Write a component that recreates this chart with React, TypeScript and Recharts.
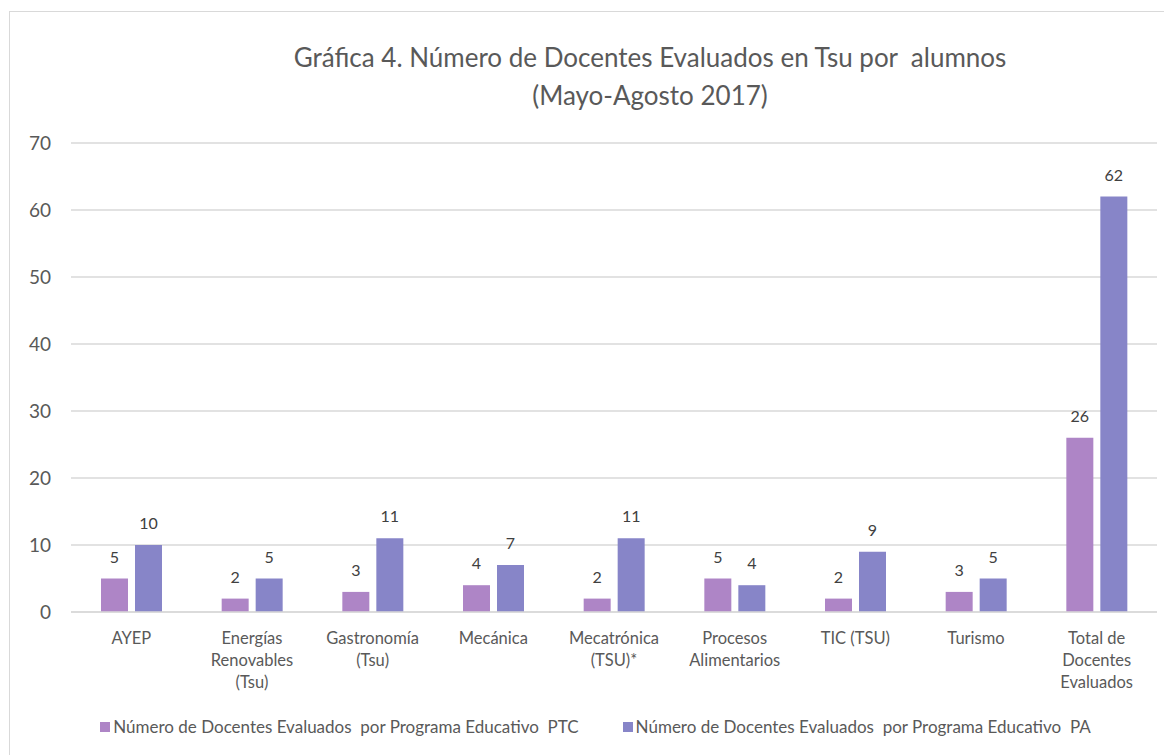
import { BarChart, Bar, XAxis, YAxis, CartesianGrid, Legend, LabelList } from 'recharts';

const categories = [
  'AYEP',
  'Energías\nRenovables\n(Tsu)',
  'Gastronomía\n(Tsu)',
  'Mecánica',
  'Mecatrónica\n(TSU)*',
  'Procesos\nAlimentarios',
  'TIC (TSU)',
  'Turismo',
  'Total de\nDocentes\nEvaluados',
];
const ptcValues = [5, 2, 3, 4, 2, 5, 2, 3, 26];
const paValues = [10, 5, 11, 7, 11, 4, 9, 5, 62];
const yTicks = [0, 10, 20, 30, 40, 50, 60, 70];

const PTC_NAME = 'Número de Docentes Evaluados  por Programa Educativo  PTC';
const PA_NAME = 'Número de Docentes Evaluados  por Programa Educativo  PA';
const PTC_COLOR = '#ae85c6';
const PA_COLOR = '#8785c8';

const data = categories.map((name, i) => ({ name, ptc: ptcValues[i], pa: paValues[i] }));

const FONT = 'Lato, "Open Sans", sans-serif';
const TEXT = '#595959';

const CategoryTick = ({ x, y, payload }: any) => {
  const lines = String(payload.value).split('\n');
  return (
    <text x={x} y={y} textAnchor="middle" fill={TEXT} fontSize={16.5} fontFamily={FONT}>
      {lines.map((l, i) => (
        <tspan key={i} x={x} dy={i === 0 ? 24 : 22}>{l}</tspan>
      ))}
    </text>
  );
};

// legend in Excel's order, keeps the double spaces
const LegendContent = () => (
  <div style={{ display: 'flex', justifyContent: 'center', gap: 44, fontSize: 17, fontFamily: FONT, color: TEXT, whiteSpace: 'pre', paddingLeft: 24 }}>
    {[[PTC_NAME, PTC_COLOR], [PA_NAME, PA_COLOR]].map(([n, c]) => (
      <span key={n} style={{ display: 'flex', alignItems: 'center' }}>
        <span style={{ width: 10, height: 10, background: c, marginRight: 3, display: 'inline-block' }} />
        {n}
      </span>
    ))}
  </div>
);

export default function App() {
  return (
    <div style={{ position: 'relative', marginLeft: 1, marginTop: 3, width: 1163, height: 744, borderTop: '1px solid #d9d9d9', borderLeft: '1px solid #d9d9d9', overflow: 'hidden', background: '#fff', fontFamily: FONT }}>
      <div style={{ position: 'absolute', left: 0, width: 1280, top: 26, textAlign: 'center', color: TEXT, fontSize: 26, lineHeight: '38px' }}>
        Gráfica 4. Número de Docentes Evaluados en Tsu por&nbsp; alumnos<br />(Mayo-Agosto 2017)
      </div>
      <BarChart
        width={1162}
        height={742}
        data={data}
        margin={{ top: 131, right: 15, left: 0, bottom: 0 }}
        barGap={7}
        barSize={27}
      >
        <CartesianGrid vertical={false} stroke="#d9d9d9" strokeWidth={1.5} />
        <XAxis dataKey="name" tick={<CategoryTick />} tickLine={false} axisLine={{ stroke: '#d9d9d9', strokeWidth: 1.5 }} interval={0} height={121} />
        <YAxis domain={[0, 70]} ticks={yTicks} width={61} tickLine={false} axisLine={false} tick={{ fill: TEXT, fontSize: 19, fontFamily: FONT, dx: -12 }} />
        <Legend verticalAlign="bottom" content={<LegendContent />} wrapperStyle={{ bottom: 17 }} />
        <Bar dataKey="ptc" name={PTC_NAME} fill={PTC_COLOR} isAnimationActive={false}>
          <LabelList dataKey="ptc" position="top" offset={16} fill="#404040" fontSize={16} fontFamily={FONT} />
        </Bar>
        <Bar dataKey="pa" name={PA_NAME} fill={PA_COLOR} isAnimationActive={false}>
          <LabelList dataKey="pa" position="top" offset={16} fill="#404040" fontSize={16} fontFamily={FONT} />
        </Bar>
      </BarChart>
    </div>
  );
}
